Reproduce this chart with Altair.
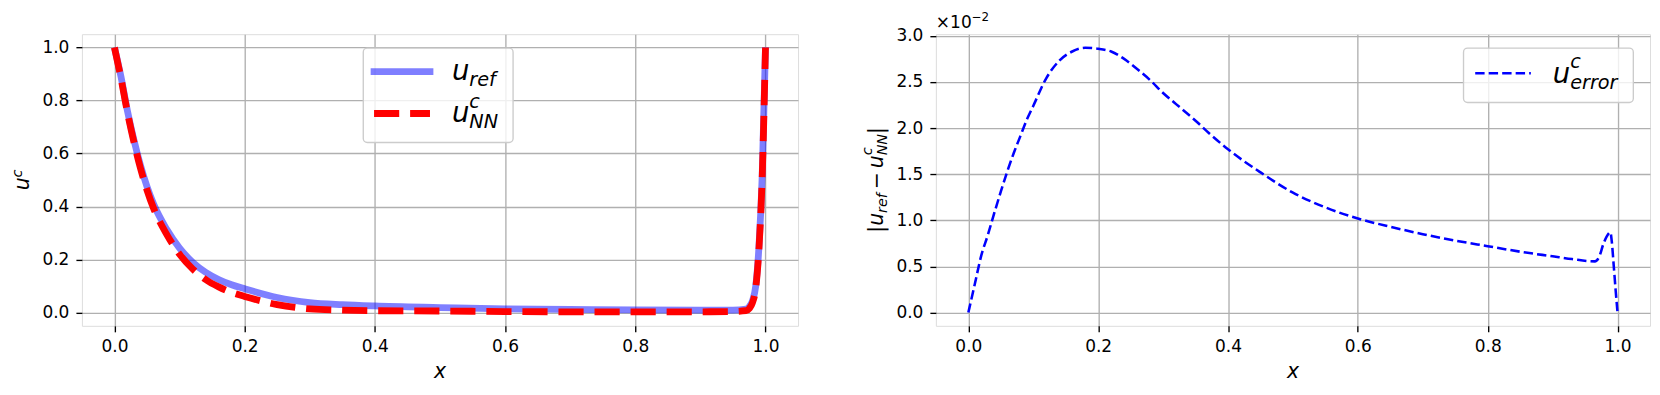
import altair as alt
import pandas as pd

# ---------------- data ----------------
x_c = [0.0, 0.01, 0.02, 0.03, 0.04, 0.05, 0.06, 0.08, 0.10, 0.12, 0.14, 0.16, 0.18, 0.20,
       0.25, 0.30, 0.35, 0.40, 0.50, 0.60, 0.70, 0.80, 0.90, 0.95, 0.97, 0.975, 0.98,
       0.985, 0.99, 0.995, 1.0]
u_ref = [1.0, 0.89, 0.76, 0.65, 0.555, 0.475, 0.41, 0.315, 0.243, 0.19, 0.152, 0.125, 0.105, 0.09,
         0.057, 0.038, 0.030, 0.025, 0.019, 0.014, 0.012, 0.010, 0.009, 0.009, 0.013, 0.022, 0.045,
         0.10, 0.25, 0.52, 1.0]
u_nn = [1.0, 0.884, 0.754, 0.642, 0.544, 0.462, 0.394, 0.296, 0.22, 0.165, 0.125, 0.097, 0.076, 0.061,
        0.030, 0.014, 0.009, 0.007, 0.006, 0.004, 0.003, 0.003, 0.003, 0.004, 0.007, 0.015, 0.037,
        0.092, 0.242, 0.515, 1.0]

x_e = [0.0, 0.01, 0.02, 0.03, 0.04, 0.05, 0.06, 0.07, 0.08, 0.09, 0.10, 0.12, 0.14, 0.16, 0.18,
       0.20, 0.22, 0.24, 0.26, 0.28, 0.30, 0.32, 0.35, 0.37, 0.40, 0.45, 0.50, 0.55, 0.60, 0.65,
       0.70, 0.75, 0.80, 0.85, 0.90, 0.93, 0.965, 0.972, 0.978, 0.983, 0.989, 0.991, 0.994, 0.997,
       1.0]
u_err = [0.0, 0.31, 0.62, 0.84, 1.08, 1.31, 1.53, 1.73, 1.91, 2.09, 2.24, 2.54, 2.73, 2.83, 2.87,
         2.86, 2.83, 2.75, 2.64, 2.52, 2.38, 2.26, 2.08, 1.95, 1.77, 1.52, 1.30, 1.14, 1.02, 0.93,
         0.85, 0.78, 0.72, 0.66, 0.61, 0.58, 0.555, 0.61, 0.74, 0.82, 0.87, 0.78, 0.52, 0.25,
         0.0]

x_ticks = [0.0, 0.2, 0.4, 0.6, 0.8, 1.0]
y_ticks_left = [0.0, 0.2, 0.4, 0.6, 0.8, 1.0]
y_ticks_right = [0.0, 0.5, 1.0, 1.5, 2.0, 2.5, 3.0]

# ---------------- styling ----------------
FONT = "DejaVu Sans"
WL, WR, H = 717, 715, 292
ONE = pd.DataFrame({"k": [0]})
FT = 20.4   # axis-title font
FS = 14.3   # axis-title sub/superscript
FL = 27.5   # legend font
FLS = 19.25 # legend sub/superscript


def ax(values):
    return alt.Axis(values=values, format=".1f", title=None, grid=True, gridColor="#b0b0b0",
                    gridWidth=1.36, domain=False, ticks=True, tickSize=6, tickWidth=1.36,
                    tickColor="black", labelFont=FONT, labelFontSize=17, labelColor="black",
                    labelPadding=7, labelFlush=False, labelOverlap=False, labelBound=False)


def text(t, x, y, fs, dx=0, dy=0, italic=True, angle=0, align="left", opacity=1):
    kw = dict(text=t, font=FONT, fontSize=fs, fontStyle="italic" if italic else "normal",
              align=align, baseline="alphabetic", dx=dx, dy=dy, color="black", opacity=opacity)
    if angle:
        kw["angle"] = angle
    return alt.Chart(ONE).mark_text(**kw).encode(x=alt.value(x), y=alt.value(y))


def box(x1, x2, y1, y2):
    return alt.Chart(ONE).mark_rect(fill="white", fillOpacity=0.8, stroke="#cccccc",
                                    strokeWidth=1.36, cornerRadius=4).encode(
        x=alt.value(x1), x2=alt.value(x2), y=alt.value(y1), y2=alt.value(y2))


xs = alt.Scale(domain=[-0.05, 1.05], nice=False, zero=False)
ysL = alt.Scale(domain=[-0.05, 1.05], nice=False, zero=False)
ysR = alt.Scale(domain=[-0.1437, 3.0177], nice=False, zero=False)

# ---------------- left panel ----------------
df_c = pd.DataFrame({"x": x_c, "ref": u_ref, "nn": u_nn})
ref_line = alt.Chart(df_c).mark_line(color="blue", opacity=0.5, strokeWidth=6.8,
                                     interpolate="monotone").encode(
    x=alt.X("x:Q", scale=xs, axis=ax(x_ticks)),
    y=alt.Y("ref:Q", scale=ysL, axis=ax(y_ticks_left)))
nn_line = alt.Chart(df_c).mark_line(color="red", strokeWidth=6.8, strokeDash=[25.2, 10.9],
                                    interpolate="monotone").encode(x="x:Q", y="nn:Q")

legL = [
    box(281.7, 431.7, 14, 108.4),
    alt.Chart(ONE).mark_rule(color="blue", opacity=0.5, strokeWidth=6.8, strokeCap="square").encode(
        x=alt.value(292.5), x2=alt.value(348.5), y=alt.value(37.4)),
    alt.Chart(ONE).mark_rule(color="red", strokeWidth=6.8, strokeDash=[25.2, 10.9]).encode(
        x=alt.value(292.5), x2=alt.value(348.5), y=alt.value(79.4)),
    text("u", 370.5, 46, FL), text("ref", 370.5, 46, FLS, dx=17.4, dy=6),
    text("u", 370.5, 88.4, FL), text("c", 370.5, 88.4, FLS, dx=17.4, dy=-15),
    text("NN", 370.5, 88.4, FLS, dx=17.4, dy=6),
]
titleL = [
    text("x", WL / 2, 344, FT, align="center"),
    text("u", -52.7, 156.3, FT, angle=270),
    text("c", -52.7, 156.3, FS, dx=12.9, dy=-7.3, angle=270),
    text("×10", 0, -6.6, 17, italic=False, opacity=0),
    text("−2", 0, -6.6, 11.9, dx=35.8, dy=-7, italic=False, opacity=0),
]
left = alt.layer(ref_line, nn_line, *legL, *titleL).properties(width=WL, height=H)

# ---------------- right panel ----------------
df_e = pd.DataFrame({"x": x_e, "e": u_err})
err_line = alt.Chart(df_e).mark_line(color="blue", strokeWidth=2.55, strokeDash=[9.4, 4.1],
                                     interpolate="monotone").encode(
    x=alt.X("x:Q", scale=xs, axis=ax(x_ticks)),
    y=alt.Y("e:Q", scale=ysR, axis=ax(y_ticks_right)))

legR = [
    box(528.3, 698.3, 14, 68.4),
    alt.Chart(ONE).mark_rule(color="blue", strokeWidth=2.55, strokeDash=[9.4, 4.1]).encode(
        x=alt.value(540), x2=alt.value(595.7), y=alt.value(39)),
    text("u", 617.7, 48.4, FL), text("c", 617.7, 48.4, FLS, dx=17.4, dy=-15),
    text("error", 617.7, 48.4, FLS, dx=17.4, dy=6),
]
TX, TY = -53.2, 198.8
titleR = [
    text("x", WR / 2, 344, FT, align="center"),
    text("|", TX, TY, FT, angle=270, italic=False),
    text("u", TX, TY, FT, dx=6.9, angle=270),
    text("ref", TX, TY, FS, dx=19.8, dy=4.5, angle=270),
    text("−", TX, TY, FT, dx=43.5, angle=270, italic=False),
    text("u", TX, TY, FT, dx=64.6, angle=270),
    text("c", TX, TY, FS, dx=77.5, dy=-11, angle=270),
    text("NN", TX, TY, FS, dx=77.5, dy=4.5, angle=270),
    text("|", TX, TY, FT, dx=98.9, angle=270, italic=False),
    text("×10", 0, -6.6, 17, italic=False),
    text("−2", 0, -6.6, 11.9, dx=35.8, dy=-7, italic=False),
]
right = alt.layer(err_line, *legR, *titleR).properties(width=WR, height=H)

chart = alt.hconcat(left, right, spacing=61).properties(
    padding={"left": 2, "top": 1, "right": 1, "bottom": 2},
    background="white",
).configure_view(stroke="black", strokeWidth=1.36).configure(font=FONT)

chart.save("out.html", embed_options={"renderer": "svg", "actions": False})
